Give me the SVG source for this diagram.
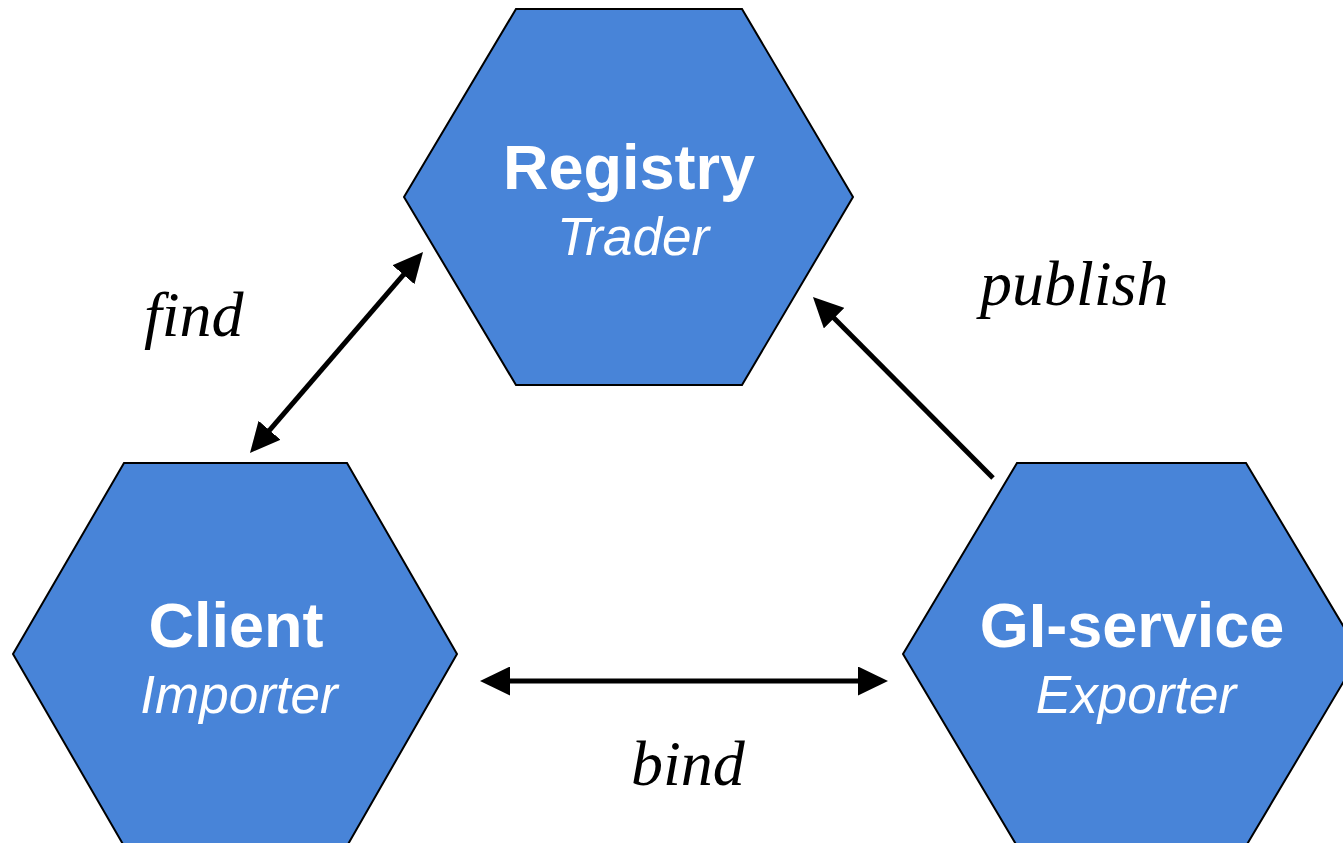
<svg xmlns="http://www.w3.org/2000/svg" width="1343" height="843" viewBox="0 0 1343 843">
<style>
.hex{fill:#4884d8;stroke:#000;stroke-width:2}
.title{font-family:"Liberation Sans",Arial,sans-serif;font-weight:bold;font-size:63px;fill:#fff;text-anchor:middle}
.sub{font-family:"Liberation Sans",Arial,sans-serif;font-style:italic;font-size:53px;fill:#fff;text-anchor:middle}
.lbl{font-family:"Liberation Serif","Times New Roman",serif;font-style:italic;font-size:64px;fill:#000}
.conn{stroke:#000;stroke-width:5;fill:none}
</style>
<defs>
<marker id="ah" markerUnits="userSpaceOnUse" markerWidth="30" markerHeight="29" refX="20" refY="14.5" orient="auto-start-reverse" viewBox="0 0 30 29">
<path d="M0,0 L30,14.5 L0,29 z" fill="#000"/>
</marker>
</defs>
<rect width="1343" height="843" fill="#fff"/>
<g id="registry">
<polygon class="hex" points="516,9 742,9 853,197 742,385 516,385 404,197"/>
<text class="title" x="629" y="189">Registry</text>
<text class="sub" x="633" y="255">Trader</text>
</g>
<g id="client">
<polygon class="hex" points="124,463 347,463 457,654 347,846 124,846 13,654"/>
<text class="title" x="236" y="647">Client</text>
<text class="sub" x="239" y="713">Importer</text>
</g>
<g id="gi-service">
<polygon class="hex" points="1017,463 1246,463 1360,654 1246,846 1017,846 903,654"/>
<text class="title" x="1132" y="647">GI-service</text>
<text class="sub" x="1136" y="713">Exporter</text>
</g>
<g id="connectors">
<line class="conn" x1="256.5" y1="445.4" x2="416.5" y2="259.6" marker-start="url(#ah)" marker-end="url(#ah)"/>
<line class="conn" x1="490" y1="681" x2="878" y2="681" marker-start="url(#ah)" marker-end="url(#ah)"/>
<line class="conn" x1="993" y1="478" x2="820" y2="304" marker-end="url(#ah)"/>
</g>
<g id="labels">
<text class="lbl" x="144" y="336">find</text>
<text class="lbl" x="980" y="305">publish</text>
<text class="lbl" x="631" y="785">bind</text>
</g>
</svg>
